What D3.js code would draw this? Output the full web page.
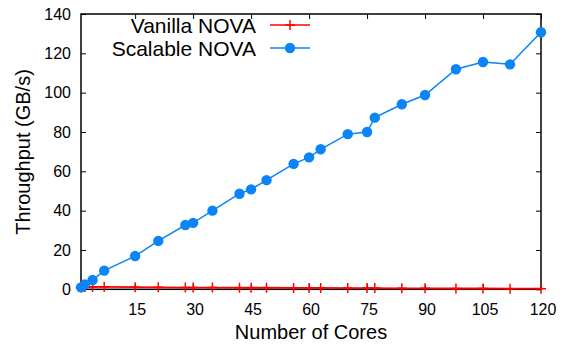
<!DOCTYPE html>
<html>
<head>
<meta charset="utf-8">
<script src="https://cdn.jsdelivr.net/npm/d3@7"></script>
<style>
  body { margin: 0; background: #fff; }
  text { font-family: "Liberation Sans", Arial, sans-serif; fill: #000; }
</style>
</head>
<body>
<div id="chart"></div>
<script>
const cores = [1, 2, 4, 7, 15, 21, 28, 30, 35, 42, 45, 49, 56, 60, 63, 70, 75, 77, 84, 90, 98, 105, 112, 120];
const scalableNova = [1.0, 2.5, 4.7, 9.5, 16.9, 24.6, 32.7, 33.8, 40.0, 48.6, 50.8, 55.5, 63.8, 67.1, 71.2, 78.9, 80.0, 87.3, 94.1, 98.8, 111.9, 115.6, 114.4, 130.7];
const vanillaNova = [1.1, 1.2, 1.2, 1.2, 1.1, 1.0, 0.9, 0.9, 0.9, 0.8, 0.8, 0.8, 0.7, 0.7, 0.7, 0.6, 0.6, 0.6, 0.5, 0.5, 0.4, 0.4, 0.3, 0.3];
const xTicks = [15, 30, 45, 60, 75, 90, 105, 120];
const yTicks = [0, 20, 40, 60, 80, 100, 120, 140];

const W = 567, H = 349;
const plotL = 81, plotR = 541, plotT = 14, plotB = 289.3;
const red = '#ff0000', blue = '#0a84f6';

const svg = d3.select('#chart').append('svg')
  .attr('width', W).attr('height', H);

const x = d3.scaleLinear().domain([1, 120]).range([plotL, plotR]);
const y = d3.scaleLinear().domain([0, 140]).range([plotB, plotT]);

// inward ticks on all four sides (gnuplot style)
const tickLen = 5;
svg.append('g').attr('transform', 'translate(' + plotL + ',0)')
  .call(d3.axisLeft(y).tickValues(yTicks).tickSize(-tickLen).tickPadding(10))
  .call(g => g.select('.domain').remove())
  .call(g => g.selectAll('text').attr('font-size', 16));
svg.append('g').attr('transform', 'translate(' + plotR + ',0)')
  .call(d3.axisRight(y).tickValues(yTicks).tickSize(-tickLen).tickFormat(''))
  .call(g => g.select('.domain').remove());
svg.append('g').attr('transform', 'translate(0,' + plotB + ')')
  .call(d3.axisBottom(x).tickValues(xTicks).tickSize(-tickLen).tickPadding(14))
  .call(g => g.select('.domain').remove())
  .call(g => g.selectAll('text').attr('font-size', 16).attr('dx', 1.5));
svg.append('g').attr('transform', 'translate(0,' + plotT + ')')
  .call(d3.axisTop(x).tickValues(xTicks).tickSize(-tickLen).tickFormat(''))
  .call(g => g.select('.domain').remove());

svg.append('rect')
  .attr('x', plotL).attr('y', plotT)
  .attr('width', plotR - plotL).attr('height', plotB - plotT)
  .attr('fill', 'none').attr('stroke', '#000').attr('stroke-width', 1.5);

svg.append('text')
  .attr('x', 311).attr('y', 339)
  .attr('text-anchor', 'middle').attr('font-size', 20)
  .text('Number of Cores');
svg.append('text')
  .attr('transform', 'translate(30,152) rotate(-90)')
  .attr('text-anchor', 'middle').attr('font-size', 20)
  .text('Throughput (GB/s)');

const line = d3.line().x(d => x(d[0])).y(d => y(d[1]));
const redData = d3.zip(cores, vanillaNova);
const blueData = d3.zip(cores, scalableNova);

function plus(g, cx, cy) {
  g.append('path')
    .attr('d', 'M' + (cx - 5) + ',' + cy + 'H' + (cx + 5) + 'M' + cx + ',' + (cy - 5) + 'V' + (cy + 5))
    .attr('stroke', red).attr('stroke-width', 1.5);
}

svg.append('path').datum(redData)
  .attr('d', line).attr('fill', 'none')
  .attr('stroke', red).attr('stroke-width', 1.8);
const redMarks = svg.append('g');
redData.forEach(d => plus(redMarks, x(d[0]), y(d[1])));

svg.append('path').datum(blueData)
  .attr('d', line).attr('fill', 'none')
  .attr('stroke', blue).attr('stroke-width', 1.5);
svg.append('g').selectAll('circle')
  .data(blueData)
  .enter().append('circle')
  .attr('cx', d => x(d[0]))
  .attr('cy', d => y(d[1]))
  .attr('r', 5.2)
  .attr('fill', blue);

// legend
const legend = [
  { name: 'Vanilla NOVA', color: red, mark: 'plus', y: 25 },
  { name: 'Scalable NOVA', color: blue, mark: 'dot', y: 48 }
];
legend.forEach(l => {
  svg.append('text')
    .attr('x', 256).attr('y', l.y + 7.5)
    .attr('text-anchor', 'end').attr('font-size', 21)
    .text(l.name);
  svg.append('line')
    .attr('x1', 270).attr('x2', 310).attr('y1', l.y).attr('y2', l.y)
    .attr('stroke', l.color).attr('stroke-width', 1.5);
  if (l.mark === 'plus') plus(svg, 290, l.y);
  else svg.append('circle').attr('cx', 290).attr('cy', l.y).attr('r', 5.2).attr('fill', l.color);
});
</script>
</body>
</html>
